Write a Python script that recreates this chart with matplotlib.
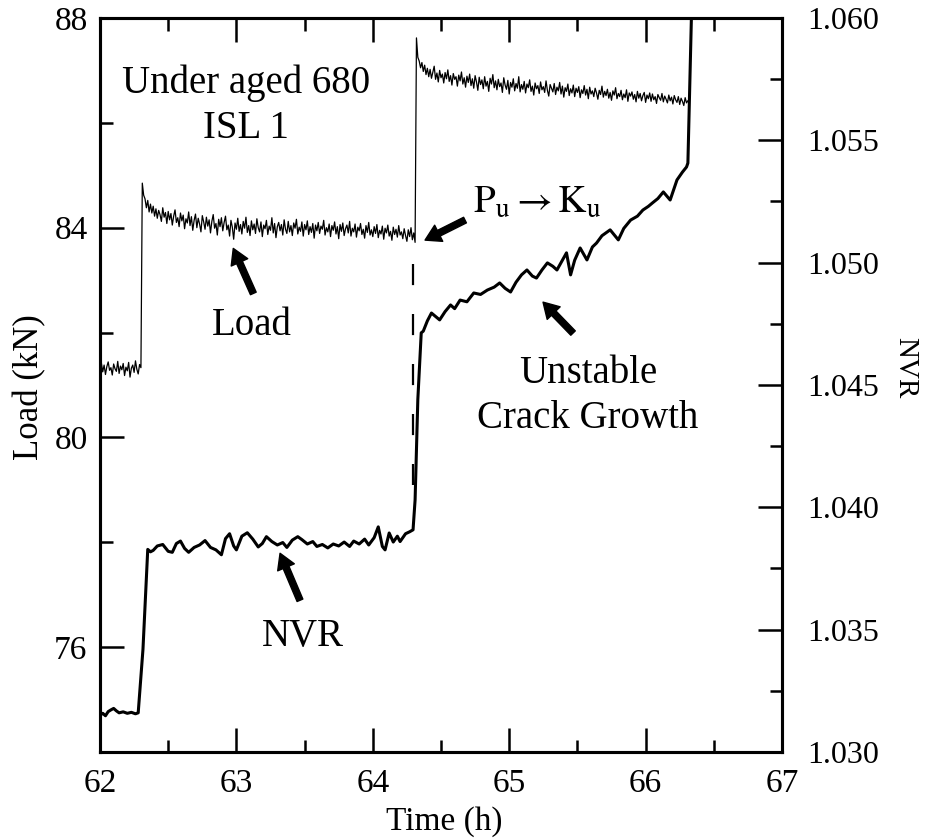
import numpy as np
import matplotlib
matplotlib.use("Agg")
import matplotlib.pyplot as plt
from matplotlib.ticker import MultipleLocator, FormatStrFormatter

plt.rcParams['font.family'] = ['Liberation Serif', 'DejaVu Serif']
plt.rcParams['mathtext.fontset'] = 'stix'

# load readings (kN), one every 0.01 h starting at 62.00 h
load_t0 = 62.00
load_dt = 0.01
load_hold = [
    81.30, 81.42, 81.25, 81.38, 81.20, 81.35, 81.44, 81.28, 81.33, 81.19,
    81.40, 81.31, 81.26, 81.45, 81.22, 81.36, 81.29, 81.41, 81.18, 81.34,
    81.27, 81.43, 81.15, 81.32, 81.38, 81.24, 81.46, 81.30, 81.21, 81.39,
    81.33]
load_step1 = [
    84.85, 84.62, 84.55, 84.38, 84.52, 84.30, 84.45, 84.28, 84.41, 84.22,
    84.36, 84.18, 84.33, 84.25, 84.12, 84.38, 84.20, 84.29, 84.08, 84.31,
    84.15, 84.27, 84.05, 84.22, 84.34, 84.10, 84.19, 84.02, 84.28, 84.13,
    84.24, 83.98, 84.17, 84.09, 84.30, 84.04, 84.21, 83.95, 84.14, 84.26,
    84.00, 84.18, 84.07, 83.92, 84.23, 84.11, 83.97, 84.20, 84.03, 84.15,
    83.90, 84.12, 84.25, 83.99, 84.08, 83.86, 84.16, 84.02, 84.19, 83.94,
    84.10, 84.22, 83.96, 84.05, 83.84, 84.14, 84.01, 83.78, 84.09, 83.97,
    84.18, 83.93, 84.06, 83.88, 84.12, 83.99, 84.20, 83.91, 84.04, 83.85,
    84.13, 83.96, 84.07, 83.89, 84.17, 84.00, 83.92, 84.11, 83.83, 84.05,
    83.98, 84.14, 83.87, 84.03, 83.95, 84.19, 83.90, 84.08, 83.81, 84.02,
    84.10, 83.94, 84.06, 83.86, 84.15, 83.97, 83.89, 84.12, 83.92, 84.04,
    83.85, 84.09, 83.99, 84.16, 83.88, 84.01, 83.93, 84.11, 83.84, 84.06,
    83.96, 84.13, 83.87, 84.02, 83.91, 84.08, 83.80, 84.05, 83.94, 84.10,
    83.89, 84.03, 83.97, 84.14, 83.86, 84.00, 83.92, 84.07, 83.83, 84.04,
    83.95, 84.11, 83.88, 84.02, 83.79, 84.06, 83.93, 84.09, 83.85, 83.98,
    84.05, 83.90, 84.12, 83.84, 83.99, 83.92, 84.07, 83.82, 84.01, 83.94,
    84.08, 83.87, 83.97, 83.80, 84.04, 83.91, 84.10, 83.86, 83.96, 83.83,
    84.02, 83.89, 84.06, 83.81, 83.95, 83.88, 84.03, 83.78, 83.99, 83.90,
    84.05, 83.84, 83.93, 83.76, 84.01, 83.87, 83.97, 83.82, 84.04, 83.86,
    83.92, 83.79, 83.98, 83.85, 83.74, 83.96, 83.83, 84.00, 83.77, 83.90,
    83.72]
load_step2 = [
    87.62, 87.25, 87.18, 87.05, 87.15, 86.98, 87.10, 86.92, 87.04, 86.88,
    87.02, 86.85, 86.97, 87.08, 86.83, 86.95, 86.78, 87.00, 86.86, 86.93,
    86.76, 86.96, 86.84, 87.01, 86.79, 86.90, 86.72, 86.94, 86.83, 86.88,
    86.70, 86.91, 86.80, 86.97, 86.74, 86.86, 86.68, 86.89, 86.77, 86.93,
    86.71, 86.84, 86.66, 86.90, 86.78, 86.62, 86.87, 86.73, 86.82, 86.65,
    86.88, 86.70, 86.79, 86.60, 86.85, 86.74, 86.92, 86.67, 86.80, 86.63,
    86.83, 86.69, 86.76, 86.58, 86.86, 86.72, 86.64, 86.81, 86.55, 86.77,
    86.68, 86.84, 86.61, 86.75, 86.66, 86.88, 86.59, 86.73, 86.64, 86.79,
    86.57, 86.74, 86.67, 86.82, 86.60, 86.70, 86.53, 86.76, 86.65, 86.71,
    86.56, 86.78, 86.63, 86.69, 86.58, 86.80, 86.62, 86.51, 86.73, 86.66,
    86.59, 86.75, 86.54, 86.68, 86.61, 86.77, 86.55, 86.70, 86.49, 86.67,
    86.60, 86.74, 86.52, 86.65, 86.57, 86.72, 86.50, 86.66, 86.58, 86.69,
    86.48, 86.63, 86.56, 86.71, 86.53, 86.64, 86.46, 86.68, 86.55, 86.61,
    86.50, 86.66, 86.57, 86.45, 86.62, 86.54, 86.70, 86.49, 86.60, 86.52,
    86.64, 86.47, 86.58, 86.43, 86.61, 86.53, 86.67, 86.46, 86.56, 86.50,
    86.62, 86.44, 86.55, 86.48, 86.63, 86.41, 86.57, 86.51, 86.59, 86.45,
    86.54, 86.40, 86.60, 86.47, 86.56, 86.42, 86.52, 86.58, 86.39, 86.53,
    86.46, 86.57, 86.41, 86.55, 86.44, 86.50, 86.37, 86.54, 86.48, 86.43,
    86.56, 86.40, 86.51, 86.45, 86.38, 86.53, 86.42, 86.49, 86.36, 86.52,
    86.44, 86.39, 86.50, 86.35, 86.47, 86.41, 86.33, 86.48, 86.38, 86.42]

# NVR readings
nvr_time = [
    62.00, 62.02, 62.04, 62.06, 62.08, 62.10, 62.12, 62.14, 62.17, 62.20,
    62.23, 62.26, 62.28, 62.315, 62.35, 62.37, 62.39, 62.42, 62.46, 62.50,
    62.53, 62.56, 62.59, 62.62, 62.65, 62.69, 62.73, 62.77, 62.81, 62.85,
    62.89, 62.92, 62.95, 62.98, 63.00, 63.04, 63.08, 63.12, 63.16, 63.19,
    63.22, 63.26, 63.30, 63.34, 63.37, 63.41, 63.45, 63.48, 63.52, 63.56,
    63.59, 63.63, 63.67, 63.71, 63.75, 63.79, 63.83, 63.86, 63.90, 63.94,
    63.97, 64.01, 64.04, 64.07, 64.09, 64.12, 64.15, 64.18, 64.20, 64.24,
    64.27, 64.295, 64.31, 64.33, 64.355, 64.37, 64.40, 64.43, 64.46, 64.49,
    64.53, 64.57, 64.60, 64.64, 64.69, 64.74, 64.79, 64.84, 64.89, 64.93,
    64.97, 65.01, 65.05, 65.09, 65.13, 65.17, 65.20, 65.24, 65.28, 65.32,
    65.35, 65.39, 65.42, 65.45, 65.48, 65.52, 65.57, 65.61, 65.64, 65.68,
    65.74, 65.80, 65.84, 65.89, 65.94, 65.98, 66.02, 66.05, 66.09, 66.13,
    66.18, 66.23, 66.27, 66.30, 66.31, 66.34]
nvr_value = [
    1.03150, 1.03158, 1.03148, 1.03165, 1.03172, 1.03178, 1.03168, 1.03160, 1.03164, 1.03158,
    1.03162, 1.03156, 1.03160, 1.03420, 1.03828, 1.03818, 1.03824, 1.03842, 1.03848, 1.03820,
    1.03816, 1.03852, 1.03862, 1.03832, 1.03816, 1.03836, 1.03846, 1.03864, 1.03836, 1.03826,
    1.03806, 1.03872, 1.03892, 1.03842, 1.03826, 1.03882, 1.03896, 1.03870, 1.03838, 1.03852,
    1.03880, 1.03860, 1.03846, 1.03856, 1.03836, 1.03866, 1.03880, 1.03868, 1.03850, 1.03860,
    1.03840, 1.03848, 1.03834, 1.03850, 1.03842, 1.03858, 1.03840, 1.03862, 1.03850, 1.03870,
    1.03846, 1.03876, 1.03920, 1.03840, 1.03826, 1.03895, 1.03858, 1.03882, 1.03860, 1.03892,
    1.03900, 1.03908, 1.04030, 1.04440, 1.04713, 1.04720, 1.04762, 1.04794, 1.04780, 1.04766,
    1.04800, 1.04827, 1.04812, 1.04847, 1.04840, 1.04876, 1.04870, 1.04888, 1.04900, 1.04917,
    1.04895, 1.04880, 1.04920, 1.04950, 1.04970, 1.04945, 1.04937, 1.04970, 1.04999, 1.04985,
    1.04970, 1.05010, 1.05040, 1.04950, 1.05010, 1.05060, 1.05011, 1.05064, 1.05080, 1.05110,
    1.05134, 1.05093, 1.05140, 1.05174, 1.05190, 1.05215, 1.05230, 1.05244, 1.05262, 1.05289,
    1.05256, 1.05338, 1.05370, 1.05391, 1.05407, 1.06100]

# dashed marker at the Pu -> Ku point (time, load range)
pu_time = [64.295, 64.295]
pu_load = [83.30, 79.10]

load_kN = np.array(load_hold + load_step1 + load_step2)
load_time = load_t0 + load_dt * np.arange(len(load_kN))

fig = plt.figure(figsize=(9.26, 8.4), dpi=100)
ax = fig.add_axes([0.108, 0.1048, 0.7365, 0.8738])
ax2 = ax.twinx()

ax.plot(load_time, load_kN, color='black', lw=0.9)
ax.plot(pu_time, pu_load, color='black', lw=1.6, dashes=(9.5, 13))
ax2.plot(nvr_time, nvr_value, color='black', lw=2.2, solid_joinstyle='round')

ax.set_xlim(62, 67)
ax.set_ylim(74, 88)
ax2.set_ylim(1.030, 1.060)

ax.xaxis.set_major_locator(MultipleLocator(1))
ax.xaxis.set_minor_locator(MultipleLocator(0.5))
ax.set_yticks([76, 80, 84, 88])
ax.set_yticks([78, 82, 86], minor=True)
ax2.yaxis.set_major_locator(MultipleLocator(0.005))
ax2.yaxis.set_minor_locator(MultipleLocator(0.0025))
ax2.yaxis.set_major_formatter(FormatStrFormatter('%.3f'))

for a in (ax, ax2):
    for sp in a.spines.values():
        sp.set_linewidth(2.2)
ax.tick_params(axis='x', which='both', direction='in', top=True, labelsize=24, pad=12)
ax.tick_params(axis='y', which='both', direction='in', labelsize=24, pad=9)
ax.tick_params(which='major', length=17, width=1.8)
ax.tick_params(which='minor', length=9, width=1.8)
ax2.tick_params(axis='y', which='both', direction='in', labelsize=23, pad=18)
ax2.tick_params(which='major', length=17, width=1.8)
ax2.tick_params(which='minor', length=9, width=1.8)

# axis titles
fig.text(444 / 926, 1 - 822 / 840, 'Time (h)', fontsize=24, ha='center', va='center')
fig.text(30 / 926, 1 - 387 / 840, 'Load (kN)', fontsize=25, ha='center', va='center', rotation=90)
fig.text(905 / 926, 1 - 368 / 840, 'NVR', fontsize=21, ha='center', va='center', rotation=270)

# annotations
txt = dict(fontsize=28, ha='center', va='baseline')
ax.text(63.07, 86.57, 'Under aged 680', **txt)
ax.text(63.07, 85.71, 'ISL 1', **txt)
ax.text(63.114, 81.95, 'Load', **txt)
ax.text(63.488, 76.03, 'NVR', **txt)
ax.text(65.578, 81.03, 'Unstable', **txt)
ax.text(65.578, 80.18, 'Crack Growth', **txt)
ax.text(64.735, 84.28, r'$\mathrm{P_u} \rightarrow \mathrm{K_u}$', fontsize=28, ha='left', va='baseline')

arrow = dict(facecolor='black', edgecolor='black', width=4.5, headwidth=13, headlength=11, shrink=0)
ax.annotate('', xy=(62.977, 83.605), xytext=(63.124, 82.746), arrowprops=arrow)
ax.annotate('', xy=(63.320, 77.79), xytext=(63.466, 76.893), arrowprops=arrow)
ax.annotate('', xy=(64.383, 83.763), xytext=(64.676, 84.145), arrowprops=arrow)
ax.annotate('', xy=(65.248, 82.58), xytext=(65.468, 81.99), arrowprops=arrow)

fig.savefig('out.png', dpi=100)
